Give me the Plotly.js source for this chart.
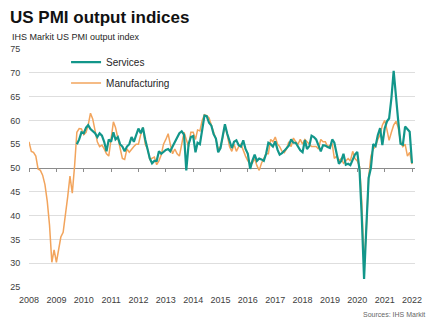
<!DOCTYPE html>
<html><head><meta charset="utf-8">
<script src="https://cdn.plot.ly/plotly-3.0.1.min.js"></script>
<style>html,body{margin:0;padding:0;background:#fff}#chart{width:435px;height:324px}</style>
</head><body><div id="chart"></div>
<script>
// First month of each series (year, month)
const manufacturingStart = [2008, 1];
const servicesStart = [2009, 10];

// IHS Markit US Manufacturing PMI output index, monthly Jan 2008 - Jan 2022
const manufacturing = [
  55.5, 53.5, 53.3, 52.5, 49.8, 49.5, 48.5, 46.5, 43.0, 38.0, 30.2, 32.8,
  30.2, 33.5, 35.5, 36.5, 40.0, 44.0, 48.3, 44.7, 50.5, 57.5, 58.3, 58.2,
  57.0, 57.5, 59.0, 61.5, 60.3, 57.5, 55.5, 54.5, 54.8, 54.0, 53.0, 52.5,
  56.5, 59.7, 58.5, 56.5, 54.0, 52.0, 51.8, 54.0, 53.3, 54.0, 54.5, 55.0,
  55.0, 57.0, 58.5, 55.0, 54.0, 51.8, 52.0, 52.3, 50.7, 51.5, 52.8, 55.0,
  56.0, 57.2, 55.0, 53.0, 54.0, 53.0, 52.5, 55.0, 57.5, 56.0, 54.5, 57.5,
  57.5, 56.0, 58.0, 57.8, 60.0, 61.2, 61.0, 60.5, 59.0, 57.5, 56.0, 54.0,
  54.5, 56.5, 59.0, 57.0, 54.5, 53.5, 55.0, 53.5, 54.5, 55.0, 53.5, 52.5,
  51.5, 51.0, 51.0, 52.0, 50.5, 49.5, 51.0, 52.0, 53.0, 53.0, 56.0, 55.5,
  56.5, 55.0, 54.5, 53.5, 53.2, 54.0, 55.5, 54.5, 56.3, 55.5, 55.0, 56.0,
  55.0, 56.0, 55.5, 55.0, 54.5, 54.5, 54.5, 54.0, 56.0, 55.5, 55.5, 54.5,
  54.8, 55.0, 52.0, 52.5, 51.5, 52.0, 51.0, 51.5, 52.0, 51.5, 53.5, 52.0,
  51.5, 50.3, 43.0, 29.5, 37.0, 48.0, 52.5, 54.0, 54.5, 56.0, 57.0, 59.0,
  60.0, 58.0, 55.8, 57.5, 59.0, 59.8, 58.5, 55.5, 54.5, 55.0, 52.5, 53.3,
  50.8
];

// IHS Markit US Services PMI business activity index, monthly Oct 2009 - Jan 2022
const services = [
  55.0, 56.0, 57.5,
  57.3, 58.5, 59.0, 58.2, 57.8, 57.3, 56.5, 57.3, 56.8, 55.5, 53.5, 56.0,
  55.5, 57.5, 56.0, 56.5, 55.0, 54.5, 53.5, 54.5, 55.0, 56.5, 55.5, 57.0,
  58.3, 57.3, 58.5, 56.0, 54.0, 52.0, 51.0, 51.5, 51.5, 53.5, 53.0, 53.5,
  53.8, 54.0, 53.5, 54.5, 55.5, 56.6, 57.3, 57.7, 57.0, 49.5, 55.0, 56.5,
  56.7, 53.3, 55.3, 55.0, 58.1, 61.0, 60.9, 59.5, 58.9, 57.1, 56.2, 53.3,
  54.2, 56.5, 59.2, 57.2, 55.8, 54.2, 55.5, 55.8, 54.8, 54.5, 55.8, 54.0,
  53.0, 49.8, 51.5, 52.8, 51.5, 52.0, 51.8, 51.5, 53.0, 55.3, 55.0, 54.5,
  55.6, 53.8, 52.8, 53.1, 53.6, 54.2, 54.7, 56.0, 55.3, 55.3, 54.5, 53.7,
  53.3, 55.9, 54.0, 54.6, 56.8, 56.5, 56.0, 54.8, 53.5, 54.8, 54.7, 54.4,
  54.2, 56.0, 55.3, 53.0, 50.9, 51.5, 53.0, 50.7, 50.9, 50.6, 51.6, 52.8,
  53.4, 49.4, 39.8, 26.7, 37.5, 47.9, 50.0, 55.0, 54.6, 56.9, 58.4, 54.8,
  58.3, 59.8, 60.4, 64.7, 70.4, 64.6, 59.9, 55.1, 54.9, 58.7, 58.0, 57.6,
  51.0
];

const seriesNames = ['Services', 'Manufacturing'];
const yTickValues = [25, 30, 35, 40, 45, 50, 55, 60, 65, 70, 75];
const xTickYears = [2008, 2009, 2010, 2011, 2012, 2013, 2014, 2015, 2016, 2017, 2018, 2019, 2020, 2021, 2022];

function monthDates(start, n) {
  const out = [];
  let y = start[0], m = start[1];
  for (let i = 0; i < n; i++) {
    out.push(y + '-' + String(m).padStart(2, '0') + '-01');
    m++; if (m > 12) { m = 1; y++; }
  }
  return out;
}

const tickVals = xTickYears.map(y => y + '-01-01');
const tickText = xTickYears.map(String);
const xRange = ['2008-01-01', '2022-02-10'];

const traces = [
  {
    x: monthDates(manufacturingStart, manufacturing.length), y: manufacturing,
    name: seriesNames[1], type: 'scatter', mode: 'lines', legendgroup: 'm', legendrank: 2,
    line: {color: '#f2a45c', width: 1.5}, hoverinfo: 'skip'
  },
  {
    x: monthDates(servicesStart, services.length), y: services,
    name: seriesNames[0], type: 'scatter', mode: 'lines', legendgroup: 's', legendrank: 1,
    line: {color: '#12968a', width: 2.2}, hoverinfo: 'skip'
  },
  {
    x: [], y: [], xaxis: 'x2', yaxis: 'y', type: 'scatter', mode: 'lines',
    showlegend: false, hoverinfo: 'skip'
  }
];

const layout = {
  width: 435, height: 324,
  margin: {l: 29, r: 20, t: 49, b: 37, pad: 0},
  paper_bgcolor: '#ffffff', plot_bgcolor: '#ffffff',
  font: {family: 'Liberation Sans, Arial, sans-serif', size: 9, color: '#404040'},
  title: {
    text: '<b>US PMI output indices</b>',
    xref: 'container', yref: 'container',
    x: 10 / 435, xanchor: 'left', y: 1 - 17 / 324, yanchor: 'middle',
    font: {family: 'Liberation Sans, Arial, sans-serif', size: 17, color: '#111111'}
  },
  showlegend: true,
  legend: {
    x: 0.096, xanchor: 'left', y: 1.006, yanchor: 'top',
    bgcolor: 'rgba(0,0,0,0)', borderwidth: 0,
    traceorder: 'grouped', tracegroupgap: 2,
    font: {size: 10, color: '#262626'}
  },
  xaxis: {
    type: 'date', range: xRange, tickmode: 'array', tickvals: tickVals, ticktext: tickText,
    showgrid: false, zeroline: false, showline: false,
    ticks: 'outside', ticklen: 4, tickcolor: 'rgba(0,0,0,0)',
    tickfont: {size: 9, color: '#404040'}, fixedrange: true
  },
  xaxis2: {
    type: 'date', range: xRange, overlaying: 'x', anchor: 'free', position: 0.5,
    tickmode: 'array', tickvals: tickVals, showticklabels: false,
    showgrid: false, zeroline: false, showline: true, linecolor: '#8c8c8c', linewidth: 1.3,
    ticks: 'outside', ticklen: 3, tickcolor: '#8c8c8c', tickwidth: 1,
    layer: 'below traces', fixedrange: true
  },
  yaxis: {
    range: [25, 75], tickmode: 'array', tickvals: yTickValues,
    showgrid: true, gridcolor: '#dedede', gridwidth: 1,
    zeroline: false, showline: false,
    ticks: 'outside', ticklen: 6, tickcolor: 'rgba(0,0,0,0)',
    tickfont: {size: 9, color: '#404040'}, fixedrange: true
  },
  annotations: [
    {
      text: 'IHS Markit US PMI output index', xref: 'paper', yref: 'paper',
      x: (10 - 29) / 386, xanchor: 'left', y: (287 - 37) / 238, yanchor: 'middle',
      showarrow: false, font: {size: 9, color: '#262626'}
    },
    {
      text: 'Sources: IHS Markit', xref: 'paper', yref: 'paper',
      x: (427 - 29) / 386, xanchor: 'right', y: (287 - 314) / 238, yanchor: 'middle',
      showarrow: false, font: {size: 7, color: '#666666'}
    }
  ]
};

Plotly.newPlot('chart', traces, layout, {displayModeBar: false, staticPlot: true});
</script>
</body></html>
